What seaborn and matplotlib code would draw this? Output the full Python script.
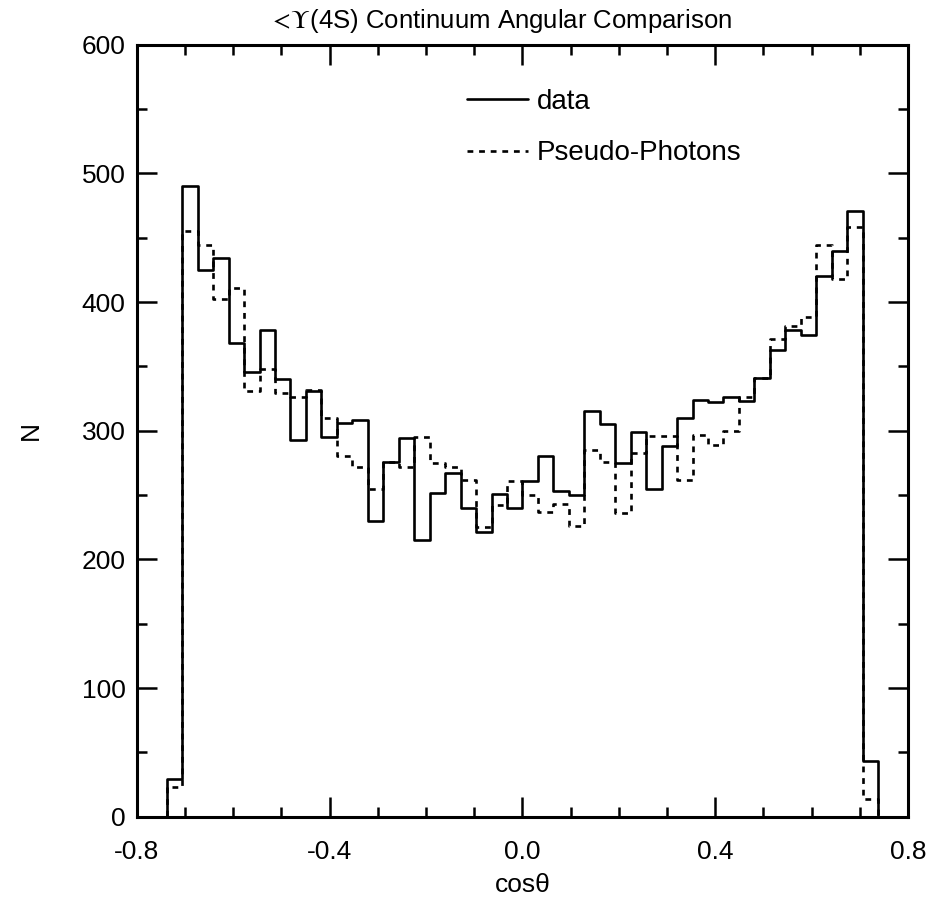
import numpy as np
import pandas as pd
import matplotlib
matplotlib.use("Agg")
import matplotlib.pyplot as plt
from matplotlib.lines import Line2D
from matplotlib.ticker import MultipleLocator
import seaborn as sns

# Histogram bins (cos theta) and counts
bin_lo, bin_hi, n_bins = -0.738, 0.738, 46
data_counts = [29, 490, 425, 434, 368, 346, 378, 340, 293, 331, 295, 306,
               308, 230, 276, 294, 215, 252, 267, 240, 221, 251, 240, 261,
               280, 253, 250, 315, 305, 275, 299, 255, 288, 310, 324, 322,
               326, 323, 341, 363, 378, 374, 420, 440, 471, 43]
pseudo_counts = [23, 455, 444, 402, 411, 331, 348, 329, 326, 332, 310, 280,
                 272, 255, 276, 272, 295, 275, 272, 262, 225, 242, 261, 250,
                 237, 243, 226, 285, 276, 236, 283, 296, 296, 262, 297, 289,
                 300, 326, 341, 371, 381, 388, 444, 418, 458, 14]
series_labels = ["data", "Pseudo-Photons"]
title = r"$<\!\Upsilon$(4S) Continuum Angular Comparison"
xlabel = "cosθ"
ylabel = "N"
x_ticks = [-0.8, -0.4, 0.0, 0.4, 0.8]
x_ticklabels = ["-0.8", "-0.4", "0.0", "0.4", "0.8"]

edges = np.linspace(bin_lo, bin_hi, n_bins + 1)
centers = 0.5 * (edges[:-1] + edges[1:])
df = pd.DataFrame({"cos": centers, "n_data": data_counts,
                   "n_pseudo": pseudo_counts})

sns.set_theme(style="ticks")
plt.rcParams["font.family"] = ["Liberation Sans", "DejaVu Sans"]
plt.rcParams["mathtext.fontset"] = "stix"
for key in ["text.color", "axes.labelcolor", "xtick.color", "ytick.color",
            "xtick.labelcolor", "ytick.labelcolor"]:
    plt.rcParams[key] = "black"

fig = plt.figure(figsize=(9.31, 8.98), dpi=100)
ax = fig.add_axes([0.147, 0.0904, 0.8283, 0.8599])

lw = 1.9
dash = (0, (2.2, 2.2))
sns.histplot(data=df, x="cos", weights="n_data", bins=n_bins,
             binrange=(bin_lo, bin_hi), element="step",
             fill=True, facecolor="none", color="black", linewidth=lw,
             linestyle="-", ax=ax)
sns.histplot(data=df, x="cos", weights="n_pseudo", bins=n_bins,
             binrange=(bin_lo, bin_hi), element="step",
             fill=True, facecolor="none", color="black", linewidth=lw,
             linestyle=dash, ax=ax)

ax.set_xlim(-0.8, 0.8)
ax.set_ylim(0, 600)
ax.xaxis.set_minor_locator(MultipleLocator(0.1))
ax.yaxis.set_major_locator(MultipleLocator(100))
ax.yaxis.set_minor_locator(MultipleLocator(50))
ax.set_xticks(x_ticks)
ax.set_xticklabels(x_ticklabels)
ax.tick_params(which="both", direction="in", top=True, right=True,
               width=1.8, labelsize=19, color="black", labelcolor="black")
ax.tick_params(which="major", length=14.5)
ax.tick_params(which="minor", length=7.2)
ax.tick_params(axis="x", which="major", pad=17)
ax.tick_params(axis="y", which="major", pad=8)
for s in ax.spines.values():
    s.set_linewidth(2.2)
    s.set_color("black")

ax.set_xlabel(xlabel, fontsize=19, labelpad=6, color="black")
ax.set_ylabel(ylabel, fontsize=19, labelpad=28, color="black")
ax.set_title(title, fontsize=18.5, pad=12, x=0.472, color="black")

handles = [Line2D([], [], color="black", lw=lw, ls="-"),
           Line2D([], [], color="black", lw=lw, ls=dash)]
ax.legend(handles, series_labels, loc="upper left",
          bbox_to_anchor=(0.396, 0.975), frameon=False, fontsize=20,
          handlelength=2.2, handletextpad=0.32, labelspacing=0.92,
          labelcolor="black")

fig.savefig("out.png", dpi=100)
